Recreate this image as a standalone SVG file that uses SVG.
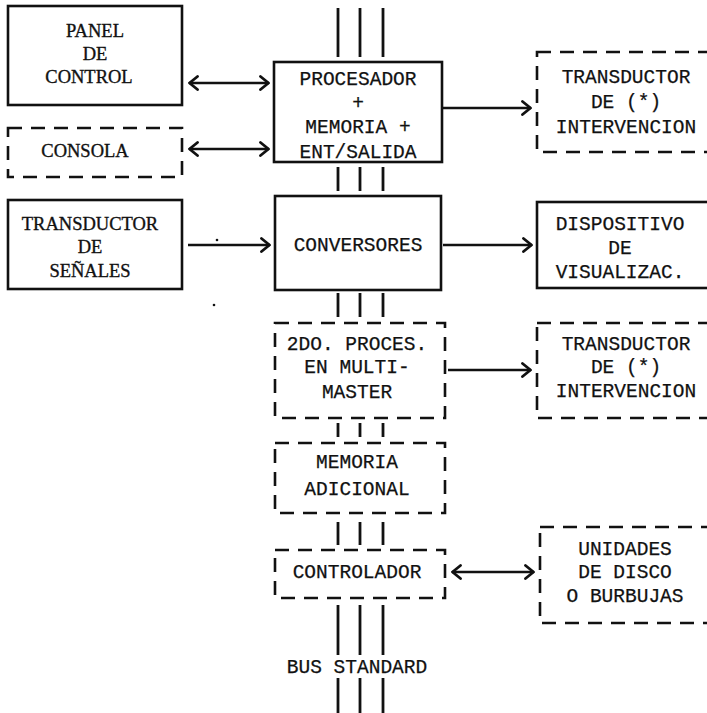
<svg xmlns="http://www.w3.org/2000/svg" width="707" height="713" viewBox="0 0 707 713">
<defs>
<style>
.box{fill:none;stroke:#111;stroke-width:2.6}
.dash{fill:none;stroke:#111;stroke-width:2.6;stroke-dasharray:14 9}
.bus{stroke:#111;stroke-width:2.8}
.con{stroke:#111;stroke-width:2.4;fill:none}
.mono{font-family:"Liberation Mono","Courier New",monospace;font-size:19.5px;fill:#111;stroke:#111;stroke-width:0.25;text-anchor:middle}
.serif{font-family:"Liberation Serif","Times New Roman",serif;font-size:18.5px;fill:#111;stroke:#111;stroke-width:0.35;text-anchor:middle}
</style>
<marker id="ah" viewBox="0 0 11 16" refX="10" refY="8" markerWidth="11" markerHeight="16" markerUnits="userSpaceOnUse" orient="auto-start-reverse">
<path d="M1.5,1.5 L9.5,8 L1.5,14.5" fill="none" stroke="#111" stroke-width="2.8" stroke-linecap="round" stroke-linejoin="round"/>
</marker>
</defs>
<rect width="707" height="713" fill="#fff"/>
<g id="bus">
<line class="bus" x1="338" y1="8" x2="338" y2="57"/><line class="bus" x1="360" y1="8" x2="360" y2="57"/><line class="bus" x1="383" y1="8" x2="383" y2="57"/>
<line class="bus" x1="338" y1="167" x2="338" y2="191"/><line class="bus" x1="360" y1="167" x2="360" y2="191"/><line class="bus" x1="383" y1="167" x2="383" y2="191"/>
<line class="bus" x1="338" y1="293" x2="338" y2="317"/><line class="bus" x1="360" y1="293" x2="360" y2="317"/><line class="bus" x1="383" y1="293" x2="383" y2="317"/>
<line class="bus" x1="338" y1="423" x2="338" y2="437"/><line class="bus" x1="360" y1="423" x2="360" y2="437"/><line class="bus" x1="383" y1="423" x2="383" y2="437"/>
<line class="bus" x1="338" y1="522" x2="338" y2="545"/><line class="bus" x1="360" y1="522" x2="360" y2="545"/><line class="bus" x1="383" y1="522" x2="383" y2="545"/>
<line class="bus" x1="338" y1="605" x2="338" y2="655"/><line class="bus" x1="360" y1="605" x2="360" y2="655"/><line class="bus" x1="383" y1="605" x2="383" y2="655"/>
<line class="bus" x1="338" y1="678" x2="338" y2="713"/><line class="bus" x1="360" y1="678" x2="360" y2="713"/><line class="bus" x1="383" y1="678" x2="383" y2="713"/>
<text class="mono" x="357" y="673">BUS STANDARD</text>
</g>
<g id="connectors">
<line class="con" x1="189" y1="83" x2="269" y2="83" marker-start="url(#ah)" marker-end="url(#ah)"/>
<line class="con" x1="189" y1="149" x2="269" y2="149" marker-start="url(#ah)" marker-end="url(#ah)"/>
<line class="con" x1="188" y1="245" x2="270" y2="245" marker-end="url(#ah)"/>
<line class="con" x1="443" y1="108" x2="531" y2="108" marker-end="url(#ah)"/>
<line class="con" x1="443" y1="245" x2="532" y2="245" marker-end="url(#ah)"/>
<line class="con" x1="448" y1="370" x2="531" y2="370" marker-end="url(#ah)"/>
<line class="con" x1="452" y1="572" x2="534" y2="572" marker-start="url(#ah)" marker-end="url(#ah)"/>
<circle cx="217" cy="240" r="1.3" fill="#111"/>
<circle cx="214" cy="305" r="1.3" fill="#111"/>
</g>
<g id="panel">
<rect class="box" x="8" y="6" width="174" height="99"/>
<text class="serif" x="95" y="37">PANEL</text>
<text class="serif" x="95" y="60">DE</text>
<text class="serif" x="89" y="83">CONTROL</text>
</g>
<g id="consola">
<rect class="dash" x="8" y="128" width="174" height="49"/>
<text class="serif" x="85" y="157">CONSOLA</text>
</g>
<g id="transductor-senales">
<rect class="box" x="8" y="200" width="174" height="89"/>
<text class="serif" x="90" y="230">TRANSDUCTOR</text>
<text class="serif" x="90" y="253">DE</text>
<text class="serif" x="90" y="277">SEÑALES</text>
</g>
<g id="procesador">
<rect class="box" x="274" y="62" width="168" height="100"/>
<text class="mono" x="358" y="85">PROCESADOR</text>
<text class="mono" x="358" y="109">+</text>
<text class="mono" x="358" y="133">MEMORIA +</text>
<text class="mono" x="358" y="158">ENT/SALIDA</text>
</g>
<g id="conversores">
<rect class="box" x="275" y="196" width="166" height="94"/>
<text class="mono" x="358" y="251">CONVERSORES</text>
</g>
<g id="proc2">
<rect class="dash" x="275" y="323" width="170" height="95"/>
<text class="mono" x="357" y="350">2DO. PROCES.</text>
<text class="mono" x="357" y="373">EN MULTI-</text>
<text class="mono" x="357" y="398">MASTER</text>
</g>
<g id="memoria">
<rect class="dash" x="275" y="443" width="170" height="70"/>
<text class="mono" x="357" y="468">MEMORIA</text>
<text class="mono" x="357" y="495">ADICIONAL</text>
</g>
<g id="controlador">
<rect class="dash" x="275" y="550" width="170" height="48"/>
<text class="mono" x="357" y="578">CONTROLADOR</text>
</g>
<g id="transductor-int1">
<rect class="dash" x="537" y="52" width="190" height="100"/>
<text class="mono" x="626" y="83">TRANSDUCTOR</text>
<text class="mono" x="626" y="108">DE (*)</text>
<text class="mono" x="626" y="133">INTERVENCION</text>
</g>
<g id="dispositivo">
<rect class="box" x="537" y="202" width="190" height="86"/>
<text class="mono" x="620" y="230">DISPOSITIVO</text>
<text class="mono" x="620" y="254">DE</text>
<text class="mono" x="620" y="278">VISUALIZAC.</text>
</g>
<g id="transductor-int2">
<rect class="dash" x="537" y="323" width="190" height="95"/>
<text class="mono" x="626" y="350">TRANSDUCTOR</text>
<text class="mono" x="626" y="373">DE (*)</text>
<text class="mono" x="626" y="397">INTERVENCION</text>
</g>
<g id="unidades">
<rect class="dash" x="540" y="527" width="190" height="96"/>
<text class="mono" x="625" y="555">UNIDADES</text>
<text class="mono" x="625" y="578">DE DISCO</text>
<text class="mono" x="625" y="602">O BURBUJAS</text>
</g>
</svg>
